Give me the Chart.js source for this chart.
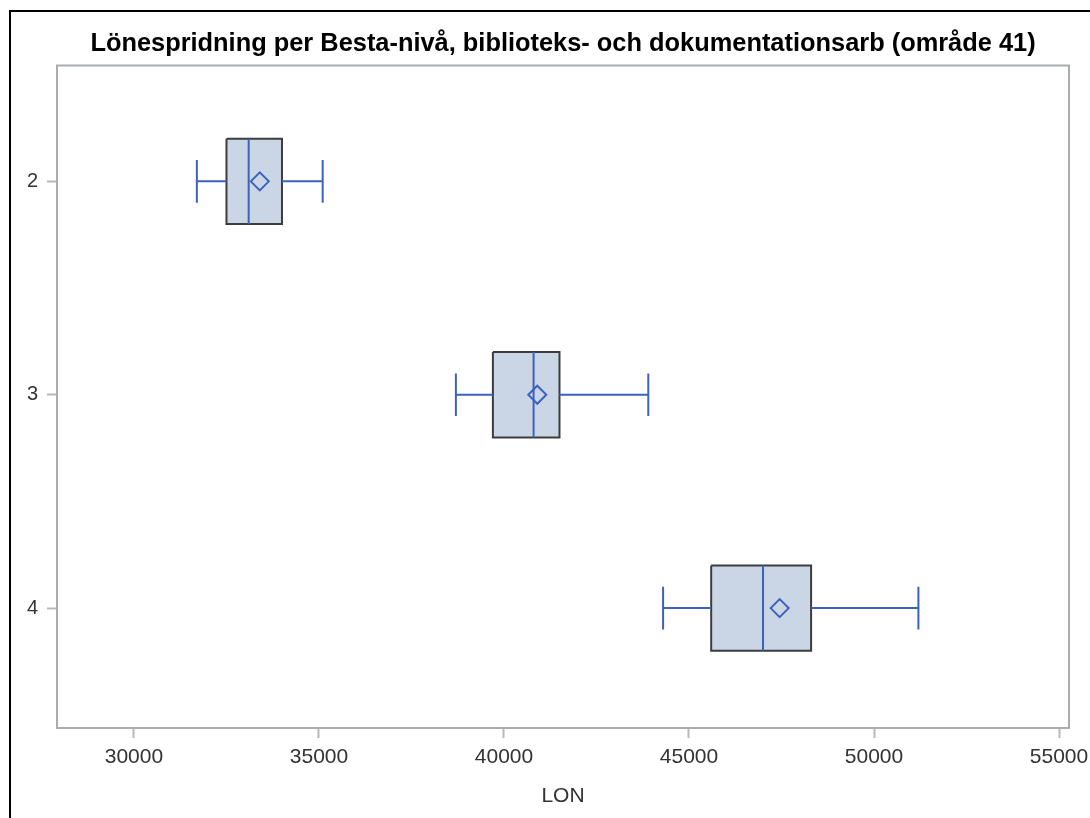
<!DOCTYPE html>
<html lang="sv">

<head>
    <meta charset="UTF-8">
    <title>Lönespridning per Besta-nivå</title>
    <script src="https://cdn.jsdelivr.net/npm/chart.js"></script>
    <style>
        body { margin: 0; background: #fff; }
        #wrap { position: relative; width: 1090px; height: 818px; }
        #frame { position: absolute; left: 9px; top: 10px; right: -10px; bottom: -10px;
                 border-left: 2px solid #000; border-top: 2px solid #000; pointer-events: none; }
    </style>
</head>

<body>
    <div id="wrap">
        <canvas id="boxChart" width="1090" height="818"></canvas>
        <div id="frame"></div>
    </div>

    <script>
        // Besta-nivåer och lönestatistik
        const levels = [2, 3, 4];
        const mins = [31700, 38700, 44300];
        const q1 = [32500, 39700, 45600];
        const medians = [33100, 40800, 47000];
        const means = [33400, 40900, 47450];
        const q3 = [34000, 41500, 48300];
        const maxs = [35100, 43900, 51200];
        const xTicks = [30000, 35000, 40000, 45000, 50000, 55000];

        const BOX_HALF = 0.2;   // halva lådans höjd i nivå-enheter
        const CAP_HALF = 0.1;
        const blue = '#3b62be';
        const gap = { x: null, y: null };

        // lådor som slutna polygoner
        const boxSets = levels.map((lv, i) => ({
            data: [
                { x: q1[i], y: lv - BOX_HALF }, { x: q3[i], y: lv - BOX_HALF },
                { x: q3[i], y: lv + BOX_HALF }, { x: q1[i], y: lv + BOX_HALF },
                { x: q1[i], y: lv - BOX_HALF }
            ],
            showLine: true,
            fill: 'shape',
            backgroundColor: '#cad5e6',
            borderColor: '#3c3c3c',
            borderWidth: 2,
            pointRadius: 0
        }));

        // morrhår + ändstreck
        const whiskerData = [];
        levels.forEach((lv, i) => {
            whiskerData.push({ x: mins[i], y: lv }, { x: q1[i], y: lv }, gap);
            whiskerData.push({ x: q3[i], y: lv }, { x: maxs[i], y: lv }, gap);
            whiskerData.push({ x: mins[i], y: lv - CAP_HALF }, { x: mins[i], y: lv + CAP_HALF }, gap);
            whiskerData.push({ x: maxs[i], y: lv - CAP_HALF }, { x: maxs[i], y: lv + CAP_HALF }, gap);
        });

        const medianData = [];
        levels.forEach((lv, i) => {
            medianData.push({ x: medians[i], y: lv - BOX_HALF }, { x: medians[i], y: lv + BOX_HALF }, gap);
        });

        const plotFrame = {
            id: 'plotFrame',
            afterDraw(chart) {
                const a = chart.chartArea;
                const c = chart.ctx;
                c.save();
                c.strokeStyle = '#a9adb1';
                c.lineWidth = 2;
                c.strokeRect(a.left, a.top, a.right - a.left, a.bottom - a.top);
                c.restore();
            }
        };

        const ctx = document.getElementById('boxChart').getContext('2d');
        new Chart(ctx, {
            type: 'scatter',
            data: {
                datasets: [
                    {
                        data: levels.map((lv, i) => ({ x: means[i], y: lv })),
                        pointStyle: 'rectRot',
                        pointRadius: 9,
                        borderColor: blue,
                        backgroundColor: 'rgba(0,0,0,0)',
                        borderWidth: 2
                    },
                    {
                        data: medianData, showLine: true, spanGaps: false,
                        borderColor: blue, borderWidth: 2, pointRadius: 0
                    },
                    {
                        data: whiskerData, showLine: true, spanGaps: false,
                        borderColor: blue, borderWidth: 2, pointRadius: 0
                    },
                    ...boxSets
                ]
            },
            options: {
                responsive: false,
                animation: false,
                layout: { padding: { left: 0, right: 21, top: 0, bottom: 0 } },
                plugins: {
                    legend: { display: false },
                    tooltip: { enabled: false },
                    title: {
                        display: true,
                        fullSize: false,
                        text: 'Lönespridning per Besta-nivå, biblioteks- och dokumentationsarb (område 41)',
                        color: '#000',
                        font: { family: 'Liberation Sans', size: 25.4, weight: 'bold' },
                        padding: { top: 29, bottom: 6 }
                    }
                },
                scales: {
                    x: {
                        type: 'linear',
                        min: 27920,
                        max: 55270,
                        afterBuildTicks: s => { s.ticks = xTicks.map(v => ({ value: v })); },
                        afterFit: s => { s.height = 90; s.paddingLeft = 0; s.paddingRight = 0; },
                        border: { display: false },
                        grid: { drawOnChartArea: false, tickLength: 10, color: '#b8b8b8', tickWidth: 2 },
                        ticks: {
                            color: '#333', padding: 7, font: { family: 'Liberation Sans', size: 21 },
                            callback: v => String(v)
                        },
                        title: {
                            display: true, text: 'LON', color: '#333',
                            font: { family: 'Liberation Sans', size: 21 },
                            padding: { top: 9, bottom: 9 }
                        }
                    },
                    y: {
                        type: 'linear',
                        reverse: true,
                        min: 1.457,
                        max: 4.562,
                        afterBuildTicks: s => { s.ticks = levels.map(v => ({ value: v })); },
                        afterFit: s => { s.width = 57; s.paddingTop = 0; s.paddingBottom = 0; },
                        border: { display: false },
                        grid: { drawOnChartArea: false, tickLength: 10, color: '#b8b8b8', tickWidth: 2 },
                        ticks: {
                            color: '#333', padding: 9, font: { family: 'Liberation Sans', size: 20 },
                            callback: v => String(v)
                        }
                    }
                }
            },
            plugins: [plotFrame]
        });
    </script>
</body>

</html>
